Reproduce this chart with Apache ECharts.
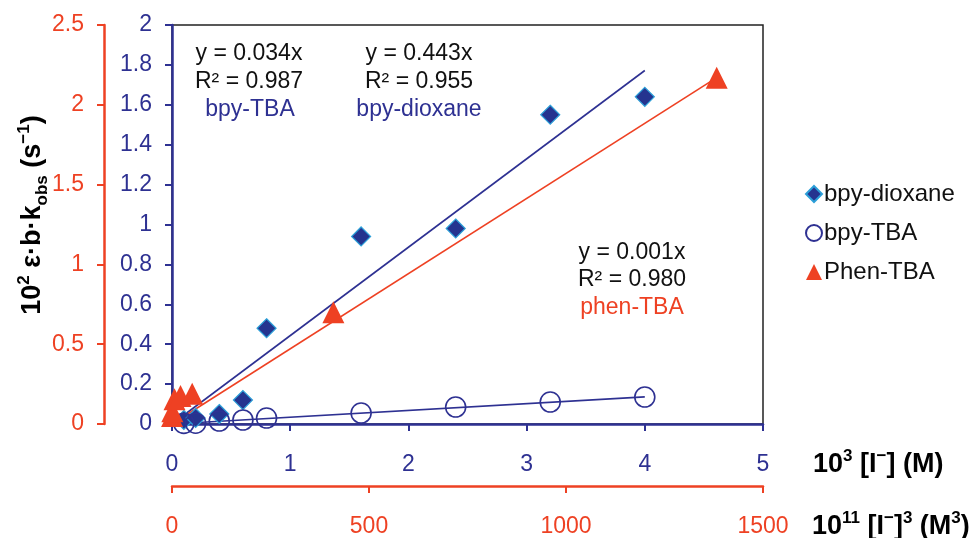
<!DOCTYPE html>
<html>
<head>
<meta charset="utf-8">
<script src="https://cdn.jsdelivr.net/npm/echarts@6/dist/echarts.min.js"></script>
<style>
html,body{margin:0;padding:0;background:#fff;}
#chart{width:973px;height:538px;}
</style>
</head>
<body>
<div id="chart"></div>
<script>
// ---- data ----
const dioxaneX = [0.1, 0.2, 0.4, 0.6, 0.8, 1.6, 2.4, 3.2, 4.0];
const dioxaneY = [0.02, 0.03, 0.05, 0.12, 0.48, 0.94, 0.98, 1.55, 1.64];
const tbaX = [0.1, 0.2, 0.4, 0.6, 0.8, 1.6, 2.4, 3.2, 4.0];
const tbaY = [0.003, 0.004, 0.015, 0.02, 0.03, 0.055, 0.085, 0.11, 0.135];
const phenX = [0.1, 0.8, 6.4, 21.6, 51.2, 409.6, 1382.4];
const phenY = [0.05, 0.08, 0.155, 0.175, 0.19, 0.70, 2.17];
const fitSlopes = { dioxane: 0.443, tba: 0.034, phen: 0.00157 };
const fitEnds = { dioxane: 4.0, tba: 4.0, phen: 1382.4 };
const xBlueTicks = { min: 0, max: 5, interval: 1 };
const xRedTicks = { min: 0, max: 1500, interval: 500 };
const yBlueTicks = { min: 0, max: 2, interval: 0.2 };
const yRedTicks = { min: 0, max: 2.5, interval: 0.5 };

const BLUE = '#2E3192';
const RED = '#EE4123';
const FONT = '"Liberation Sans", Arial, sans-serif';

const zip = (xs, ys) => xs.map((x, i) => [x, ys[i]]);
const fit = (k) => [[0, 0], [fitEnds[k], fitSlopes[k] * fitEnds[k]]];
const plain = (v) => String(v);

const chart = echarts.init(document.getElementById('chart'), null, { renderer: 'canvas' });

function axisCommon(color) {
  return {
    type: 'value',
    splitLine: { show: false },
    axisLine: { show: true, onZero: false, lineStyle: { color: color, width: 2.5 } },
    axisTick: { show: true, inside: false, length: 7, lineStyle: { color: color, width: 2 } }
  };
}

const supBase = (size, color, weight) => ({
  n: { fontSize: size, fontWeight: weight, color: color, fontFamily: FONT, lineHeight: size + 8 },
  s: { fontSize: Math.round(size * 0.62), fontWeight: weight, color: color, fontFamily: FONT, lineHeight: 15, verticalAlign: 'top' },
  b: { fontSize: Math.round(size * 0.62), fontWeight: weight, color: color, fontFamily: FONT, lineHeight: 15, verticalAlign: 'bottom' }
});

function note(x, y, text, color) {
  return {
    type: 'text', x: x, y: y, silent: true,
    style: { text: text, fill: color, fontSize: 23, fontFamily: FONT, align: 'center', verticalAlign: 'middle' }
  };
}

const option = {
  backgroundColor: '#fff',
  animation: false,
  grid: { left: 172, top: 25, width: 591, height: 400, show: true, borderColor: '#222', borderWidth: 1.5, backgroundColor: 'transparent' },
  xAxis: [
    Object.assign(axisCommon(BLUE), {
      position: 'bottom', min: xBlueTicks.min, max: xBlueTicks.max, interval: xBlueTicks.interval,
      axisLabel: { color: BLUE, fontSize: 23, fontFamily: FONT, margin: 29, formatter: plain }
    }),
    Object.assign(axisCommon(RED), {
      position: 'bottom', offset: 62, min: xRedTicks.min, max: xRedTicks.max, interval: xRedTicks.interval,
      axisLabel: { color: RED, fontSize: 23, fontFamily: FONT, margin: 29, formatter: plain }
    })
  ],
  yAxis: [
    Object.assign(axisCommon(BLUE), {
      position: 'left', min: yBlueTicks.min, max: yBlueTicks.max, interval: yBlueTicks.interval,
      axisLabel: { color: BLUE, fontSize: 23, fontFamily: FONT, margin: 20, formatter: plain }
    }),
    Object.assign(axisCommon(RED), {
      position: 'left', offset: 68, min: yRedTicks.min, max: yRedTicks.max, interval: yRedTicks.interval,
      axisLabel: { color: RED, fontSize: 23, fontFamily: FONT, margin: 20, formatter: plain }
    })
  ],
  legend: {
    orient: 'vertical', left: 800, top: 177, itemGap: 15, itemWidth: 16, itemHeight: 16,
    textStyle: { fontSize: 24, color: '#111', fontFamily: FONT, padding: [0, 0, 0, -3] },
    data: [
      { name: 'bpy-dioxane', icon: 'diamond' },
      { name: 'bpy-TBA', icon: 'circle' },
      { name: 'Phen-TBA', icon: 'triangle' }
    ]
  },
  series: [
    { name: 'fit-dioxane', type: 'line', xAxisIndex: 0, yAxisIndex: 0, data: fit('dioxane'), showSymbol: false, silent: true,
      lineStyle: { color: BLUE, width: 1.6 }, z: 2 },
    { name: 'fit-tba', type: 'line', xAxisIndex: 0, yAxisIndex: 0, data: fit('tba'), showSymbol: false, silent: true,
      lineStyle: { color: BLUE, width: 1.6 }, z: 2 },
    { name: 'fit-phen', type: 'line', xAxisIndex: 1, yAxisIndex: 1, data: fit('phen'), showSymbol: false, silent: true,
      lineStyle: { color: RED, width: 1.6 }, z: 2 },
    { name: 'bpy-dioxane', type: 'scatter', xAxisIndex: 0, yAxisIndex: 0, data: zip(dioxaneX, dioxaneY),
      symbol: 'diamond', symbolSize: 19, itemStyle: { color: '#25348F', borderColor: '#2C9FD8', borderWidth: 1.2, opacity: 1 }, z: 3 },
    { name: 'bpy-TBA', type: 'scatter', xAxisIndex: 0, yAxisIndex: 0, data: zip(tbaX, tbaY),
      symbol: 'circle', symbolSize: 20, itemStyle: { color: 'rgba(255,255,255,0)', borderColor: BLUE, borderWidth: 1.6, opacity: 1 }, z: 4 },
    { name: 'Phen-TBA', type: 'scatter', xAxisIndex: 1, yAxisIndex: 1, data: zip(phenX, phenY),
      symbol: 'triangle', symbolSize: 22, itemStyle: { color: RED, opacity: 1 }, z: 5 }
  ],
  graphic: [
    note(249, 54, 'y = 0.034x', '#111'),
    note(249, 82, 'R² = 0.987', '#111'),
    note(250, 110, 'bpy-TBA', BLUE),
    note(419, 54, 'y = 0.443x', '#111'),
    note(419, 82, 'R² = 0.955', '#111'),
    note(419, 110, 'bpy-dioxane', BLUE),
    note(632, 253, 'y = 0.001x', '#111'),
    note(632, 280, 'R² = 0.980', '#111'),
    note(632, 308, 'phen-TBA', RED),
    {
      type: 'text', x: 33, y: 215, rotation: Math.PI / 2, silent: true,
      style: {
        text: '{n|10}{s|2}{n| ε·b·k}{b|obs}{n| (s}{s|−1}{n|)}',
        rich: supBase(27, '#111', 'bold'),
        align: 'center', verticalAlign: 'middle'
      }
    },
    {
      type: 'text', x: 813, y: 465, silent: true,
      style: {
        text: '{n|10}{s|3}{n| [I}{s|−}{n|] (M)}',
        rich: supBase(27, BLUE, 'bold'),
        align: 'left', verticalAlign: 'middle'
      }
    },
    {
      type: 'text', x: 812, y: 527, silent: true,
      style: {
        text: '{n|10}{s|11}{n| [I}{s|−}{n|]}{s|3}{n| (M}{s|3}{n|)}',
        rich: supBase(27, RED, 'bold'),
        align: 'left', verticalAlign: 'middle'
      }
    }
  ]
};

chart.setOption(option);
</script>
</body>
</html>
